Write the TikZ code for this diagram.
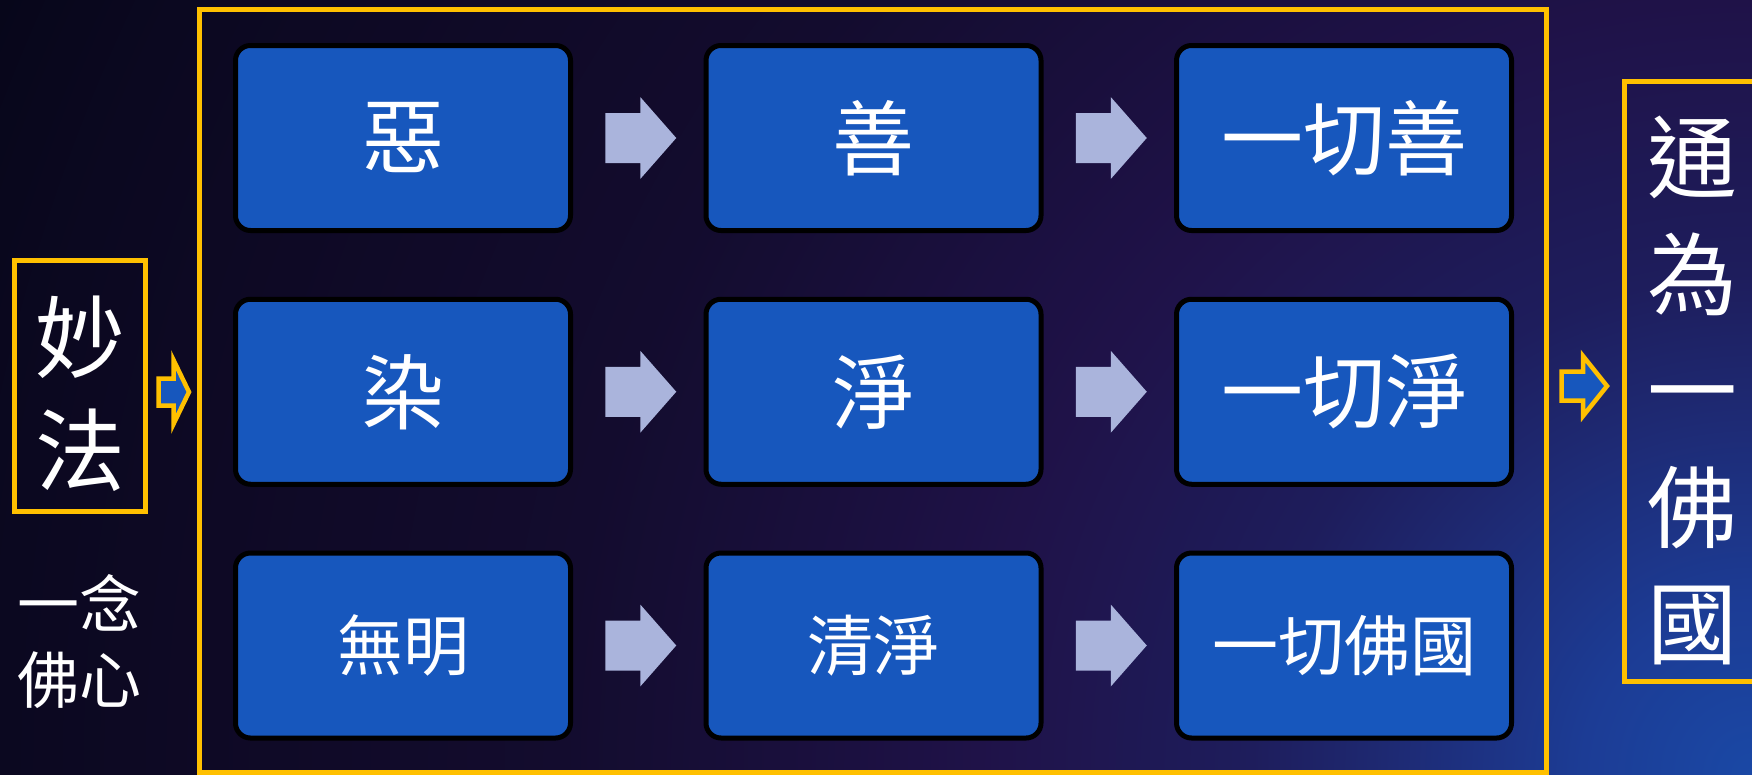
\documentclass[tikz,border=0pt]{standalone}
\usepackage{fontspec}
\usetikzlibrary{calc}
\newfontfamily\cjk{Noto Sans CJK TC}
\definecolor{gold}{HTML}{FFC000}
\definecolor{boxblue}{HTML}{1757BD}
\definecolor{arrowc}{HTML}{AAB4DC}
\definecolor{bg0}{HTML}{1A48A5}
\definecolor{bg1}{HTML}{1C3C95}
\definecolor{bg2}{HTML}{1E2870}
\definecolor{bg3}{HTML}{1E1D5C}
\definecolor{bg4}{HTML}{1F1248}
\definecolor{bg5}{HTML}{1B1040}
\definecolor{bg6}{HTML}{130C2E}
\definecolor{bg7}{HTML}{100A28}
\definecolor{bg8}{HTML}{0B0820}
\definecolor{bg9}{HTML}{07061A}
\pgfdeclareradialshading{bgrad}{\pgfpoint{0bp}{0bp}}{color(0bp)=(bg0); color(2.125bp)=(bg1); color(4.75bp)=(bg2); color(6.25bp)=(bg3); color(9.675bp)=(bg4); color(11.25bp)=(bg5); color(14.875bp)=(bg6); color(17.75bp)=(bg7); color(21.9bp)=(bg8); color(23.94bp)=(bg9); color(25bp)=(bg9); color(50bp)=(bg9)}
\newcommand\blockarrow[1]{\fill[arrowc] ($(#1)+(-33,-25)$) -- ($(#1)+(2,-25)$) -- ($(#1)+(2,-41)$) -- ($(#1)+(38,0)$) -- ($(#1)+(2,41)$) -- ($(#1)+(2,25)$) -- ($(#1)+(-33,25)$) -- cycle;}
\begin{document}
\begin{tikzpicture}[x=1pt,y=-1pt,
  stepbox/.style={draw=black, line width=5pt, fill=boxblue, rounded corners=15pt,
    minimum width=335pt, minimum height=185pt, inner sep=0pt, text=white},
  bigtxt/.style={font=\cjk\fontsize{82}{96}\selectfont},
  smalltxt/.style={font=\cjk\fontsize{66}{80}\selectfont},
  goldbox/.style={draw=gold, line width=5pt, inner sep=0pt},
  smallarrow/.style={fill=boxblue, draw=gold, line width=4.5pt, miter limit=10},
  coltxt/.style={text=white, align=center, inner sep=0pt}]
\useasboundingbox (0,0) rectangle (1752,774);
\begin{scope}
  \clip (0,0) rectangle (1752,774);
  \shade[shading=bgrad] (1752,774) circle[radius=2000pt];
\end{scope}
% frames
\node[goldbox, minimum width=1347.5pt, minimum height=763pt] (frame) at (872.75,391) {};
\node[goldbox, minimum width=131pt, minimum height=251pt] (miaobox) at (80,386) {};
\node[goldbox, minimum width=132.5pt, minimum height=600.5pt] (tongbox) at (1690.75,381.25) {};
% side texts
\node[coltxt, font=\cjk\fontsize{90}{113}\selectfont] (miao) at (80,393.5) {妙\\法};
\node[coltxt, font=\cjk\fontsize{62}{76}\selectfont] (nian) at (79.5,642) {一念\\佛心};
\node[coltxt, font=\cjk\fontsize{90}{116.5}\selectfont] (tong) at (1692.5,390.5) {通\\為\\一\\佛\\國};
% boxes
\node[stepbox, bigtxt] (e) at (403,138) {惡};
\node[stepbox, bigtxt] (s) at (873.5,138) {善};
\node[stepbox, bigtxt] (as) at (1344,138) {一切善};
\node[stepbox, bigtxt] (r) at (403,391.75) {染};
\node[stepbox, bigtxt] (j) at (873.5,391.75) {淨};
\node[stepbox, bigtxt] (aj) at (1344,391.75) {一切淨};
\node[stepbox, smalltxt] (w) at (403,645.5) {無明};
\node[stepbox, smalltxt] (q) at (873.5,645.5) {清淨};
\node[stepbox, smalltxt] (af) at (1344,645.5) {一切佛國};
% block arrows
\foreach \a/\b in {e/s, s/as, r/j, j/aj, w/q, q/af}{
  \coordinate (m) at ($(\a.east)!0.5!(\b.west)$);
  \blockarrow{m}
}
% small arrows
\coordinate (la) at (173.5,392);
\draw[smallarrow] ($(la)+(-15,-13.5)$) -- ($(la)+(0,-13.5)$) -- ($(la)+(0,-32)$) -- ($(la)+(15.5,0)$) -- ($(la)+(0,32)$) -- ($(la)+(0,13.5)$) -- ($(la)+(-15,13.5)$) -- cycle;
\coordinate (ra) at (1583,386);
\draw[smallarrow] ($(ra)+(-21.5,-14.5)$) -- ($(ra)+(0,-14.5)$) -- ($(ra)+(0,-30)$) -- ($(ra)+(24,0)$) -- ($(ra)+(0,30)$) -- ($(ra)+(0,14.5)$) -- ($(ra)+(-21.5,14.5)$) -- cycle;
\end{tikzpicture}
\end{document}
